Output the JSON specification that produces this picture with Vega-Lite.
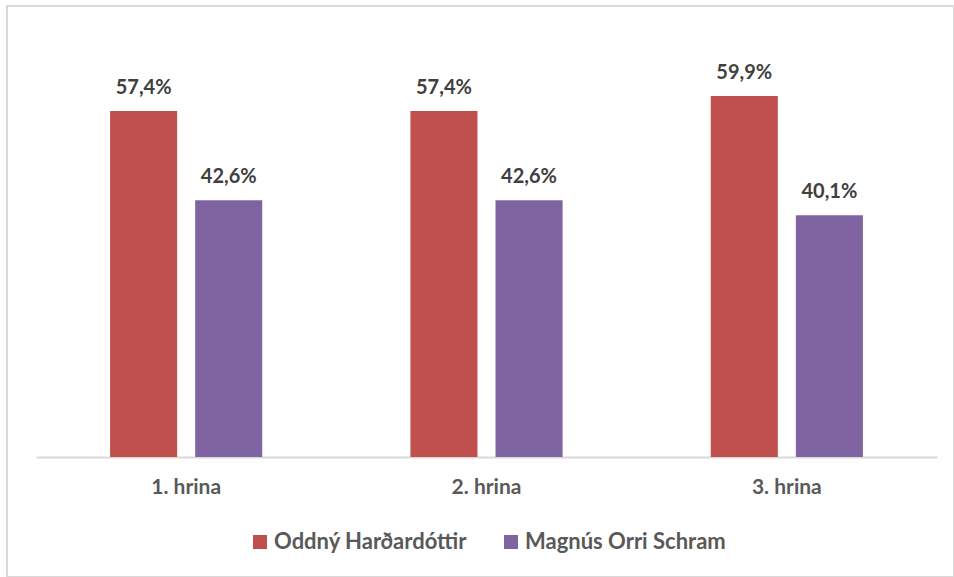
{
  "$schema": "https://vega.github.io/schema/vega-lite/v6.json",
  "width": 947,
  "height": 571,
  "autosize": {"type": "none"},
  "padding": {"left": 7, "top": 6, "right": 0, "bottom": 0},
  "background": "#ffffff",
  "config": {
    "view": {"stroke": "#d9d9d9", "strokeWidth": 2},
    "locale": {"number": {"decimal": ",", "thousands": ".", "grouping": [3], "currency": ["", " kr"]}},
    "font": "Lato"
  },
  "data": {
    "values": [
      {"umferd": "1. hrina", "frambjodandi": "Oddný Harðardóttir", "hlutfall": 0.574},
      {"umferd": "1. hrina", "frambjodandi": "Magnús Orri Schram", "hlutfall": 0.426},
      {"umferd": "2. hrina", "frambjodandi": "Oddný Harðardóttir", "hlutfall": 0.574},
      {"umferd": "2. hrina", "frambjodandi": "Magnús Orri Schram", "hlutfall": 0.426},
      {"umferd": "3. hrina", "frambjodandi": "Oddný Harðardóttir", "hlutfall": 0.599},
      {"umferd": "3. hrina", "frambjodandi": "Magnús Orri Schram", "hlutfall": 0.401}
    ]
  },
  "encoding": {
    "x": {
      "field": "umferd", "type": "nominal", "title": null,
      "scale": {"range": [29, 930], "paddingInner": 0, "paddingOuter": 0},
      "axis": {
        "offset": -120, "labelAngle": 0, "ticks": false,
        "domainColor": "#d9d9d9", "domainWidth": 2,
        "labelFont": "Lato", "labelFontSize": 21, "labelFontWeight": "bold",
        "labelColor": "#595959", "labelPadding": 19
      }
    },
    "xOffset": {
      "field": "frambjodandi", "type": "nominal",
      "sort": ["Oddný Harðardóttir", "Magnús Orri Schram"],
      "scale": {"paddingInner": 0.2118, "paddingOuter": 0.8706}
    },
    "y": {
      "field": "hlutfall", "type": "quantitative",
      "scale": {"domain": [0, 0.7], "range": [451, 29]},
      "axis": null
    }
  },
  "layer": [
    {
      "mark": {"type": "bar"},
      "encoding": {
        "color": {
          "field": "frambjodandi", "type": "nominal",
          "sort": ["Oddný Harðardóttir", "Magnús Orri Schram"],
          "scale": {"domain": ["Oddný Harðardóttir", "Magnús Orri Schram"], "range": ["#c0504d", "#8064a2"]},
          "legend": {
            "orient": "none", "direction": "horizontal", "title": null,
            "legendX": 242, "legendY": 525, "padding": 0,
            "symbolType": "square", "symbolSize": 196, "symbolStrokeWidth": 0,
            "symbolOpacity": 1,
            "labelFont": "Lato", "labelFontSize": 22, "labelFontWeight": "bold",
            "labelColor": "#595959", "labelOffset": 3, "columnPadding": 32,
            "labelLimit": 400
          }
        }
      }
    },
    {
      "mark": {"type": "text", "baseline": "alphabetic", "dy": -17, "font": "Lato", "fontSize": 20, "fontWeight": "bold", "color": "#404040"},
      "encoding": {
        "text": {"field": "hlutfall", "type": "quantitative", "format": ".1%"}
      }
    }
  ]
}
